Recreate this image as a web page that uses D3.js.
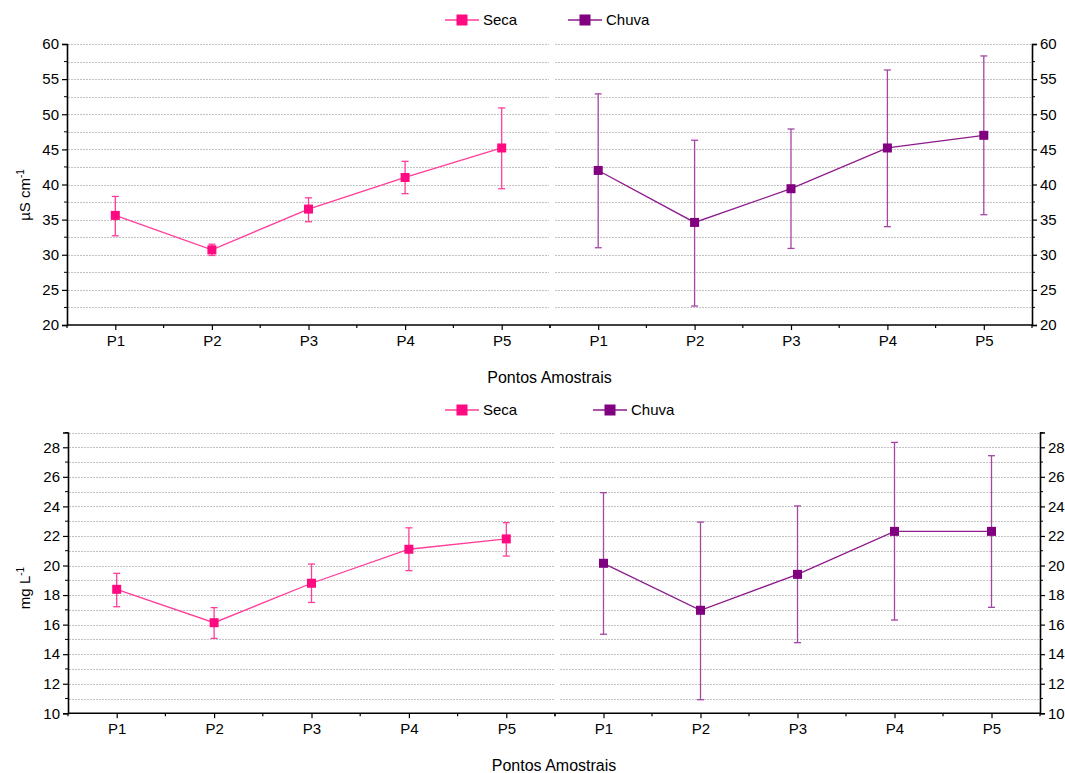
<!DOCTYPE html>
<html><head><meta charset="utf-8">
<script src="https://cdn.jsdelivr.net/npm/d3@7"></script>
<style>body{margin:0;background:#fff}svg{display:block;font-family:"Liberation Sans",Arial,sans-serif}</style>
</head><body><svg id="c" width="1065" height="773"></svg>
<script>
const categories = ["P1","P2","P3","P4","P5"];
// Top chart (µS cm-1)
const condSecaMean = [35.6, 30.7, 36.5, 41.0, 45.2];
const condSecaLow  = [32.7, 29.9, 34.7, 38.7, 39.4];
const condSecaHigh = [38.3, 31.5, 38.1, 43.3, 50.9];
const condChuvaMean = [42.0, 34.6, 39.4, 45.2, 47.0];
const condChuvaLow  = [31.0, 22.7, 30.9, 34.0, 35.7];
const condChuvaHigh = [52.9, 46.3, 47.9, 56.3, 58.3];
const condTicks = [20,25,30,35,40,45,50,55,60];
// Bottom chart (mg L-1)
const mgSecaMean = [18.39, 16.13, 18.8, 21.1, 21.8];
const mgSecaLow  = [17.21, 15.07, 17.5, 19.65, 20.64];
const mgSecaHigh = [19.47, 17.15, 20.1, 22.55, 22.9];
const mgChuvaMean = [20.15, 16.97, 19.4, 22.31, 22.31];
const mgChuvaLow  = [15.35, 10.92, 14.78, 16.31, 17.17];
const mgChuvaHigh = [24.93, 22.94, 24.03, 28.33, 27.43];
const mgTicks = [10,12,14,16,18,20,22,24,26,28];

const seriesNames = ["Seca","Chuva"];
const colors = {Seca:{marker:"#ff0a80", line:"#ff3d9a", err:"#ff3d9a"}, Chuva:{marker:"#800080", line:"#8e1a8e", err:"#a347a3"}};

const svg = d3.select("#c");
const FONT = 15;

function drawChart(cfg){
  const g = svg.append("g");
  const y = d3.scaleLinear().domain(cfg.domain).range([cfg.bottom, cfg.top]);
  const xL = d3.scaleBand().domain(categories).range([cfg.left, cfg.mid]);
  const xR = d3.scaleBand().domain(categories).range([cfg.mid, cfg.right]);
  const gridVals = d3.range(cfg.domain[0] + cfg.minor, cfg.domain[1] + 1e-9, cfg.minor);
  // gridlines
  [[cfg.left+1, cfg.mid-1],[cfg.mid+5, cfg.right-1]].forEach(([a,b])=>{
    g.append("g").selectAll("line").data(gridVals).join("line")
      .attr("x1",a).attr("x2",b)
      .attr("y1",d=>Math.round(y(d))+0.5).attr("y2",d=>Math.round(y(d))+0.5)
      .attr("stroke","#c2c2c2").attr("stroke-width",1).attr("stroke-dasharray","2,1");
  });
  // left axis
  const leftAx = d3.axisLeft(y).tickValues(cfg.ticks).tickSize(5).tickPadding(3);
  const la = g.append("g").attr("transform",`translate(${cfg.left},0)`).call(leftAx);
  const minorVals = gridVals.filter(v=>!cfg.ticks.some(t=>Math.abs(t-v)<1e-6));
  la.append("g").selectAll("line").data(minorVals).join("line")
    .attr("x1",-3).attr("x2",0).attr("y1",d=>y(d)).attr("y2",d=>y(d)).attr("stroke","#000");
  // right axis
  const rightAx = d3.axisRight(y).tickValues(cfg.ticks).tickSize(5).tickPadding(3);
  const ra = g.append("g").attr("transform",`translate(${cfg.right},0)`).call(rightAx);
  ra.append("g").selectAll("line").data(minorVals).join("line")
    .attr("x1",0).attr("x2",3).attr("y1",d=>y(d)).attr("y2",d=>y(d)).attr("stroke","#000");
  [la,ra].forEach(a=>{
    a.select(".domain").attr("stroke","#000").attr("stroke-width",1.6);
    a.selectAll(".tick line").attr("stroke","#000").attr("stroke-width",1.2);
    a.selectAll("text").attr("font-size",FONT).attr("fill","#000").attr("font-family","Liberation Sans, Arial, sans-serif");
  });
  // bottom axes
  [xL,xR].forEach(xs=>{
    const ax = d3.axisBottom(d3.scalePoint().domain(categories).range([xs(categories[0])+xs.bandwidth()/2, xs(categories[4])+xs.bandwidth()/2]))
      .tickSize(5).tickPadding(5);
    const ba = g.append("g").attr("transform",`translate(0,${cfg.bottom})`).call(ax);
    ba.select(".domain").remove();
    ba.selectAll(".tick line").attr("stroke","#000").attr("stroke-width",1.2);
    ba.selectAll("text").attr("font-size",FONT).attr("fill","#000").attr("font-family","Liberation Sans, Arial, sans-serif");
    const bounds = categories.map(c=>xs(c)).concat([xs.range()[1]]);
    ba.append("g").selectAll("line").data(bounds).join("line")
      .attr("x1",d=>d).attr("x2",d=>d).attr("y1",0).attr("y2",3).attr("stroke","#000").attr("stroke-width",1.2);
  });
  g.append("line").attr("x1",cfg.left).attr("x2",cfg.right).attr("y1",cfg.bottom).attr("y2",cfg.bottom)
    .attr("stroke","#000").attr("stroke-width",1.6);
  // series
  const series = [
    {name:"Seca", xs:xL, mean:cfg.seca[0], low:cfg.seca[1], high:cfg.seca[2]},
    {name:"Chuva", xs:xR, mean:cfg.chuva[0], low:cfg.chuva[1], high:cfg.chuva[2]}
  ];
  series.forEach(s=>{
    const cx = c => s.xs(c) + s.xs.bandwidth()/2;
    const col = colors[s.name];
    const pts = categories.map((c,i)=>({c, m:s.mean[i], lo:s.low[i], hi:s.high[i]}));
    const eg = g.append("g");
    pts.forEach(p=>{
      eg.append("line").attr("x1",cx(p.c)).attr("x2",cx(p.c)).attr("y1",y(p.lo)).attr("y2",y(p.hi)).attr("stroke",col.err).attr("stroke-width",1.3);
      [p.lo,p.hi].forEach(v=>eg.append("line").attr("x1",cx(p.c)-3.5).attr("x2",cx(p.c)+3.5).attr("y1",y(v)).attr("y2",y(v)).attr("stroke",col.err).attr("stroke-width",1.3));
    });
    g.append("path").datum(pts).attr("fill","none").attr("stroke",col.line).attr("stroke-width",1.3)
      .attr("d",d3.line().x(p=>cx(p.c)).y(p=>y(p.m)));
    g.append("g").selectAll("rect").data(pts).join("rect")
      .attr("x",p=>cx(p.c)-4.5).attr("y",p=>y(p.m)-4.5).attr("width",9).attr("height",9).attr("fill",col.marker);
  });
  // legend
  cfg.legend.forEach((lx,i)=>{
    const col = colors[seriesNames[i]];
    g.append("line").attr("x1",lx-17).attr("x2",lx+17).attr("y1",cfg.legendY).attr("y2",cfg.legendY).attr("stroke",col.line).attr("stroke-width",1.3);
    g.append("rect").attr("x",lx-5.5).attr("y",cfg.legendY-5.5).attr("width",11).attr("height",11).attr("fill",col.marker);
    g.append("text").attr("x",lx+21).attr("y",cfg.legendY+5).attr("font-size",FONT).text(seriesNames[i]);
  });
  // titles
  g.append("text").attr("x",(cfg.left+cfg.right)/2).attr("y",cfg.bottom+58).attr("text-anchor","middle").attr("font-size",FONT+1).text("Pontos Amostrais");
  const yt = g.append("text").attr("transform",`translate(${cfg.ytX},${cfg.ytY}) rotate(-90)`).attr("text-anchor","middle").attr("font-size",FONT);
  yt.append("tspan").text(cfg.ylabel);
  yt.append("tspan").attr("dy",-6).attr("font-size",10).text("-1");
}

drawChart({domain:[20,60], ticks:condTicks, minor:2.5, top:44, bottom:325, left:67, mid:550, right:1032,
  seca:[condSecaMean,condSecaLow,condSecaHigh], chuva:[condChuvaMean,condChuvaLow,condChuvaHigh],
  legend:[462,585], legendY:20, ylabel:"µS cm", ytX:30, ytY:195});
drawChart({domain:[10,29], ticks:mgTicks, minor:1, top:432.5, bottom:713.3, left:68, mid:555, right:1040,
  seca:[mgSecaMean,mgSecaLow,mgSecaHigh], chuva:[mgChuvaMean,mgChuvaLow,mgChuvaHigh],
  legend:[462,610], legendY:410, ylabel:"mg L", ytX:30, ytY:588});
</script></body></html>
